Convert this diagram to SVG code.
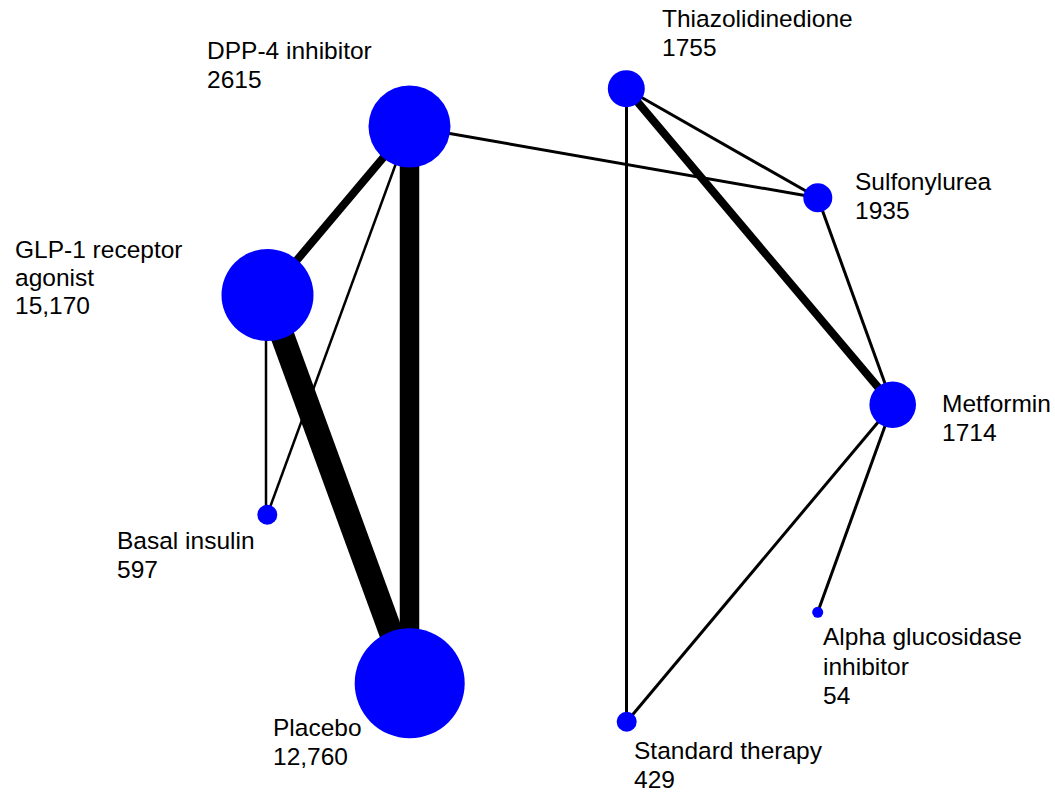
<svg xmlns="http://www.w3.org/2000/svg" width="1055" height="795" viewBox="0 0 1055 795">
<style>
.e{stroke:#000;stroke-linecap:butt;fill:none}
.n{fill:#0000ff}
text{font-family:"Liberation Sans",Arial,sans-serif;font-size:24.5px;fill:#000}
</style>
<rect width="1055" height="795" fill="#fff"/>
<g id="connectors">
<line class="e" x1="409.5" y1="126.5" x2="409.5" y2="683.3" stroke-width="19.5"/>
<line class="e" x1="267.5" y1="295" x2="409.5" y2="683.3" stroke-width="24"/>
<line class="e" x1="409.5" y1="126.5" x2="267.5" y2="295" stroke-width="8"/>
<line class="e" x1="409.5" y1="126.5" x2="267.3" y2="514.7" stroke-width="2.5"/>
<line class="e" x1="266" y1="295" x2="266" y2="514.7" stroke-width="2.5"/>
<line class="e" x1="409.5" y1="126.5" x2="817.8" y2="197.8" stroke-width="3"/>
<line class="e" x1="626.3" y1="88.7" x2="817.8" y2="197.8" stroke-width="3"/>
<line class="e" x1="626.3" y1="88.7" x2="892.7" y2="404.7" stroke-width="8"/>
<line class="e" x1="626.5" y1="88.7" x2="626.5" y2="721.7" stroke-width="3"/>
<line class="e" x1="817.8" y1="197.8" x2="892.7" y2="404.7" stroke-width="3"/>
<line class="e" x1="892.7" y1="404.7" x2="626.7" y2="721.7" stroke-width="3"/>
<line class="e" x1="892.7" y1="404.7" x2="817.7" y2="612.3" stroke-width="3"/>
</g>
<g id="dpp4"><circle class="n" cx="409.5" cy="126.5" r="41"/><text x="207" y="59">DPP-4 inhibitor</text><text x="207" y="88">2615</text></g>
<g id="glp1"><circle class="n" cx="267.5" cy="295" r="46"/><text x="15" y="258">GLP-1 receptor</text><text x="15" y="286">agonist</text><text x="15" y="314">15,170</text></g>
<g id="basal"><circle class="n" cx="267.3" cy="514.7" r="10"/><text x="117" y="549">Basal insulin</text><text x="117" y="578">597</text></g>
<g id="placebo"><circle class="n" cx="409.7" cy="683.3" r="55"/><text x="273" y="736">Placebo</text><text x="273" y="765">12,760</text></g>
<g id="thiazo"><circle class="n" cx="626.3" cy="88.7" r="18.5"/><text x="662" y="27">Thiazolidinedione</text><text x="662" y="56">1755</text></g>
<g id="sulfonylurea"><circle class="n" cx="817.8" cy="197.8" r="14.5"/><text x="855" y="190">Sulfonylurea</text><text x="855" y="219">1935</text></g>
<g id="metformin"><circle class="n" cx="892.7" cy="404.7" r="23.3"/><text x="942" y="412">Metformin</text><text x="942" y="441">1714</text></g>
<g id="alpha"><circle class="n" cx="817.7" cy="612.3" r="5.5"/><text x="823" y="645">Alpha glucosidase</text><text x="823" y="675">inhibitor</text><text x="823" y="704">54</text></g>
<g id="standard"><circle class="n" cx="626.7" cy="721.7" r="10"/><text x="634" y="759">Standard therapy</text><text x="634" y="788">429</text></g>
</svg>
